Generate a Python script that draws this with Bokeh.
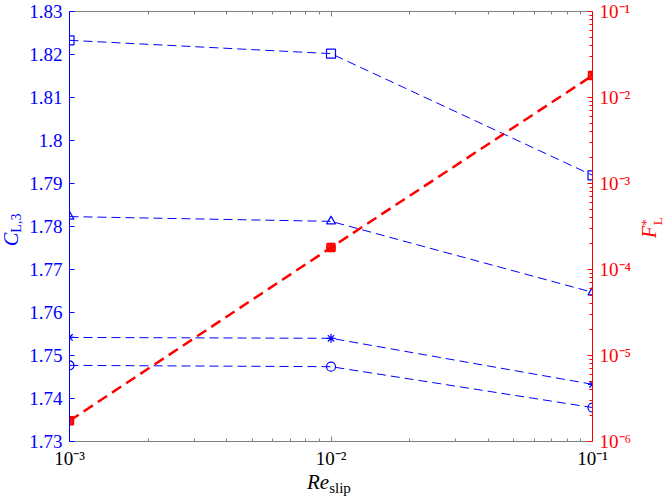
from bokeh.plotting import figure
from bokeh.models import (Range1d, LogScale, LogAxis, FixedTicker,
                          CustomJSTickFormatter, Div)
from bokeh.layouts import row, column
from bokeh.embed import file_html
from bokeh.resources import INLINE

# ---- data ----
re_slip = [1e-3, 1e-2, 1e-1]

cl_square = [1.8233, 1.8202, 1.7919]
cl_triangle = [1.7823, 1.7812, 1.7647]
cl_asterisk = [1.7542, 1.7540, 1.7433]
cl_circle = [1.7477, 1.7474, 1.7379]

f_square = [1.74e-6, 1.80e-4, 1.80e-2]
f_triangle = [1.76e-6, 1.78e-4, 1.79e-2]
f_asterisk = [1.75e-6, 1.79e-4, 1.81e-2]
f_circle = [1.75e-6, 1.80e-4, 1.80e-2]

left_ticks = [1.73, 1.74, 1.75, 1.76, 1.77, 1.78, 1.79, 1.80, 1.81, 1.82, 1.83]
left_labels = ["1.73", "1.74", "1.75", "1.76", "1.77", "1.78", "1.79", "1.8",
               "1.81", "1.82", "1.83"]
x_ticks = [1e-3, 1e-2, 1e-1]
right_ticks = [1e-6, 1e-5, 1e-4, 1e-3, 1e-2, 1e-1]

FONT = "Liberation Serif"
BLUE = "#0000ff"
RED = "#ff0000"
GRAY = "#808080"

LW, RW, BH = 24, 26, 26
PW, PH = 664 - LW - RW, 498 - BH


def log_minors(decades):
    out = []
    for d in decades[:-1]:
        for k in range(2, 10):
            out.append(d * k)
    return out


sup_js = """
const sup = {"-":"\u207b","0":"\u2070","1":"\u00b9","2":"\u00b2","3":"\u00b3","4":"\u2074",
             "5":"\u2075","6":"\u2076","7":"\u2077","8":"\u2078","9":"\u2079"};
const e = Math.round(Math.log10(tick));
return "10" + String(e).split("").map(c => sup[c]).join("");
"""

p = figure(x_axis_type="log", x_range=Range1d(1e-3, 1e-1), y_range=Range1d(1.73, 1.83),
           width=PW, height=PH,
           min_border_left=45, min_border_right=46, min_border_top=11, min_border_bottom=31,
           output_backend="svg", toolbar_location=None, margin=0)
p.extra_y_ranges = {"F": Range1d(1e-6, 1e-1)}
p.extra_y_scales = {"F": LogScale()}
p.xgrid.visible = False
p.ygrid.visible = False
p.outline_line_color = None
p.background_fill_color = "white"
p.border_fill_color = "white"


def style_axis(ax, color, label_color, minor=True):
    ax.axis_line_color = color
    ax.major_tick_line_color = color
    ax.minor_tick_line_color = color if minor else None
    ax.major_tick_in = 5
    ax.major_tick_out = 0
    ax.minor_tick_in = 3
    ax.minor_tick_out = 0
    ax.major_label_text_font = FONT
    ax.major_label_text_font_size = "19px"
    ax.major_label_text_color = label_color
    ax.major_label_standoff = 7


# bottom axis
xa = p.xaxis[0]
xa.ticker = FixedTicker(ticks=x_ticks, minor_ticks=log_minors(x_ticks))
xa.formatter = CustomJSTickFormatter(code=sup_js)
style_axis(xa, GRAY, "black")
xa.major_label_standoff = 6

# top axis (mirror, no labels)
ta = LogAxis(ticker=FixedTicker(ticks=x_ticks, minor_ticks=log_minors(x_ticks)),
             formatter=CustomJSTickFormatter(code="return ''"))
style_axis(ta, GRAY, GRAY)
ta.major_label_text_font_size = "0px"
ta.major_label_standoff = 0
p.add_layout(ta, "above")

# left axis
ya = p.yaxis[0]
ya.ticker = FixedTicker(ticks=left_ticks)
ya.major_label_overrides = {t: l for t, l in zip(left_ticks, left_labels)}
style_axis(ya, BLUE, BLUE, minor=False)

# right axis
ra = LogAxis(y_range_name="F",
             ticker=FixedTicker(ticks=right_ticks, minor_ticks=log_minors(right_ticks)),
             formatter=CustomJSTickFormatter(code=sup_js))
style_axis(ra, RED, RED)
p.add_layout(ra, "right")

# blue series
for cl, mk in [(cl_square, "square"), (cl_triangle, "triangle"),
               (cl_asterisk, "asterisk"), (cl_circle, "circle")]:
    p.line(re_slip, cl, line_color=BLUE, line_width=1, line_dash="9 5")
    p.scatter(re_slip, cl, marker=mk, size=9, line_color=BLUE, fill_color=None, line_width=1.2)

# red series
p.line(re_slip, f_square, y_range_name="F", line_color=RED, line_width=2.5, line_dash="11 6")
for f, mk in [(f_square, "square"), (f_triangle, "triangle"),
              (f_asterisk, "asterisk"), (f_circle, "circle")]:
    p.scatter(re_slip, f, y_range_name="F", marker=mk, size=8, line_color=RED,
              fill_color=None, line_width=1.4)

# axis titles (with sub/superscripts) as HTML text
ff = "font-family:'Liberation Serif',serif;"
rot = "position:absolute;transform:rotate(-90deg);transform-origin:0 0;white-space:nowrap;"

left_html = (
    f'<div style="position:relative;width:{LW}px;height:{PH}px;">'
    f'<div style="{rot}{ff}left:1px;top:246px;font-size:20px;line-height:20px;color:{BLUE};">'
    '<i>C</i><span style="font-size:14px;position:relative;top:3px;">L,3</span>'
    '</div></div>'
)
right_html = (
    f'<div style="position:relative;width:{RW}px;height:{PH}px;">'
    f'<div style="{rot}{ff}left:1px;top:238px;font-size:20px;line-height:20px;color:{RED};">'
    '<i>F</i><span style="font-size:13px;position:relative;top:-6px;">*</span>'
    '<span style="font-size:13px;position:relative;top:6px;margin-left:-6px;">L</span>'
    '</div></div>'
)
bottom_html = (
    f'<div style="position:relative;width:664px;height:{BH}px;">'
    f'<div style="position:absolute;left:307px;top:0px;white-space:nowrap;{ff}'
    'font-size:21px;line-height:21px;color:#000;">'
    '<i>Re</i><span style="font-size:15px;position:relative;top:4px;">slip</span>'
    '</div></div>'
)

left_div = Div(text=left_html, width=LW, height=PH, margin=0)
right_div = Div(text=right_html, width=RW, height=PH, margin=0)
bottom_div = Div(text=bottom_html, width=664, height=BH, margin=0)

layout = column(row(left_div, p, right_div, spacing=0, margin=0), bottom_div,
                spacing=0, margin=0)

open("out.html", "w").write(file_html(layout, INLINE))
